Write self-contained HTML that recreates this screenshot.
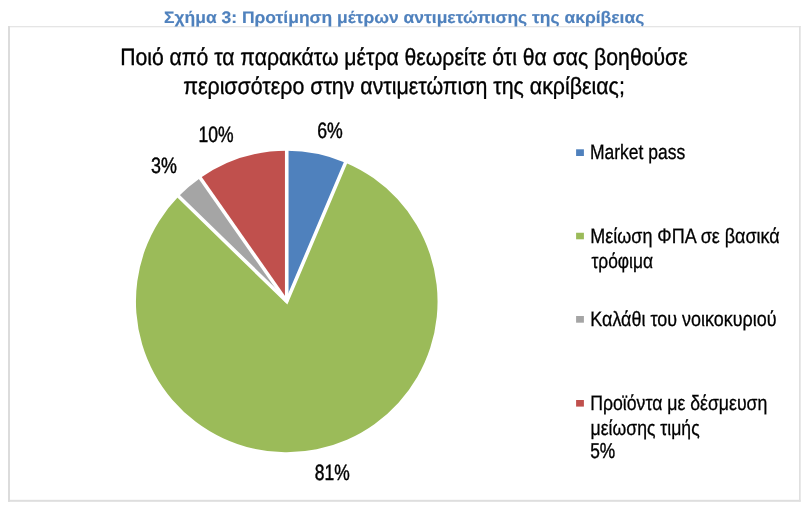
<!DOCTYPE html>
<html lang="el">
<head>
<meta charset="utf-8">
<title>Σχήμα 3</title>
<style>
html,body{margin:0;padding:0;background:#fff;}
body{width:807px;height:510px;overflow:hidden;}
svg{display:block;}
text{font-family:"Liberation Sans",sans-serif;text-rendering:geometricPrecision;}
</style>
</head>
<body>
<svg width="807" height="510" viewBox="0 0 807 510">
<rect x="0" y="0" width="807" height="510" fill="#ffffff"/>
<rect x="8" y="26" width="792.7" height="1.3" fill="#e5e5e5"/>
<rect x="8" y="499.8" width="792.7" height="2" fill="#dedede"/>
<rect x="8" y="26" width="2" height="475.8" fill="#dcdcdc"/>
<rect x="799" y="26" width="1.7" height="475.8" fill="#e0e0e0"/>
<g>
<path d="M286.75,301.50 L286.75,150.70 A150.8,150.8 0 0 1 345.55,162.64 Z" fill="#4f81bd"/>
<path d="M286.75,301.50 L345.55,162.64 A150.8,150.8 0 1 1 178.64,196.37 Z" fill="#9bbb59"/>
<path d="M286.75,301.50 L178.64,196.37 A150.8,150.8 0 0 1 200.25,177.97 Z" fill="#a5a5a5"/>
<path d="M286.75,301.50 L200.25,177.97 A150.8,150.8 0 0 1 286.75,150.70 Z" fill="#c0504d"/>
<path d="M176.49,194.28 L286.75,301.50 L346.72,159.87" fill="none" stroke="#ffffff" stroke-width="3.6" stroke-linejoin="miter" stroke-miterlimit="10"/>
<line x1="286.75" y1="301.50" x2="286.75" y2="147.70" stroke="#ffffff" stroke-width="3.6"/>
<line x1="286.75" y1="301.50" x2="198.53" y2="175.51" stroke="#ffffff" stroke-width="3.6"/>
</g>
<rect x="576.1" y="149.3" width="7.8" height="6.7" fill="#4f81bd"/>
<rect x="576.1" y="232.75" width="7.8" height="6.55" fill="#9bbb59"/>
<rect x="576.1" y="316.0" width="7.8" height="6.7" fill="#a5a5a5"/>
<rect x="576.1" y="400.0" width="7.8" height="6.6" fill="#c0504d"/>
<text y="23" font-size="16.7" font-weight="bold" fill="#4f81bd" stroke="#4f81bd" stroke-width="0.15"><tspan x="164.04" textLength="480.25" lengthAdjust="spacingAndGlyphs">Σχήμα 3: Προτίμηση μέτρων αντιμετώπισης της ακρίβειας</tspan></text>
<text y="65" font-size="23.6" font-weight="normal" fill="#000000" stroke="#000000" stroke-width="0.35"><tspan x="120.13" textLength="567.45" lengthAdjust="spacingAndGlyphs">Ποιό από τα παρακάτω μέτρα θεωρείτε ότι θα σας βοηθούσε</tspan></text>
<text y="94" font-size="23.6" font-weight="normal" fill="#000000" stroke="#000000" stroke-width="0.35"><tspan x="183.24" textLength="441.58" lengthAdjust="spacingAndGlyphs">περισσότερο στην αντιμετώπιση της ακρίβειας;</tspan></text>
<text y="142" font-size="22.2" font-weight="normal" fill="#000000" stroke="#000000" stroke-width="0.45"><tspan x="198.56" textLength="35.09" lengthAdjust="spacingAndGlyphs">10%</tspan></text>
<text y="138" font-size="22.2" font-weight="normal" fill="#000000" stroke="#000000" stroke-width="0.45"><tspan x="317.14" textLength="25.58" lengthAdjust="spacingAndGlyphs">6%</tspan></text>
<text y="173" font-size="22.2" font-weight="normal" fill="#000000" stroke="#000000" stroke-width="0.45"><tspan x="150.99" textLength="25.88" lengthAdjust="spacingAndGlyphs">3%</tspan></text>
<text y="480" font-size="22.2" font-weight="normal" fill="#000000" stroke="#000000" stroke-width="0.45"><tspan x="314.71" textLength="34.96" lengthAdjust="spacingAndGlyphs">81%</tspan></text>
<text y="159" font-size="20.8" font-weight="normal" fill="#000000" stroke="#000000" stroke-width="0.3"><tspan x="589.95" textLength="95.21" lengthAdjust="spacingAndGlyphs">Market pass</tspan></text>
<text y="243" font-size="20.8" font-weight="normal" fill="#000000" stroke="#000000" stroke-width="0.3"><tspan x="590.3" textLength="189.44" lengthAdjust="spacingAndGlyphs">Μείωση ΦΠΑ σε βασικά</tspan></text>
<text y="268" font-size="20.8" font-weight="normal" fill="#000000" stroke="#000000" stroke-width="0.3"><tspan x="591.44" textLength="61.54" lengthAdjust="spacingAndGlyphs">τρόφιμα</tspan></text>
<text y="326" font-size="20.8" font-weight="normal" fill="#000000" stroke="#000000" stroke-width="0.3"><tspan x="590.3" textLength="186.18" lengthAdjust="spacingAndGlyphs">Καλάθι του νοικοκυριού</tspan></text>
<text y="410" font-size="20.8" font-weight="normal" fill="#000000" stroke="#000000" stroke-width="0.3"><tspan x="590.19" textLength="177.08" lengthAdjust="spacingAndGlyphs">Προϊόντα με δέσμευση</tspan></text>
<text y="435" font-size="20.8" font-weight="normal" fill="#000000" stroke="#000000" stroke-width="0.3"><tspan x="590.62" textLength="109.05" lengthAdjust="spacingAndGlyphs">μείωσης τιμής</tspan></text>
<text y="458" font-size="21.6" font-weight="normal" fill="#000000" stroke="#000000" stroke-width="0.4"><tspan x="590.16" textLength="25.0" lengthAdjust="spacingAndGlyphs">5%</tspan></text>
</svg>
</body>
</html>
